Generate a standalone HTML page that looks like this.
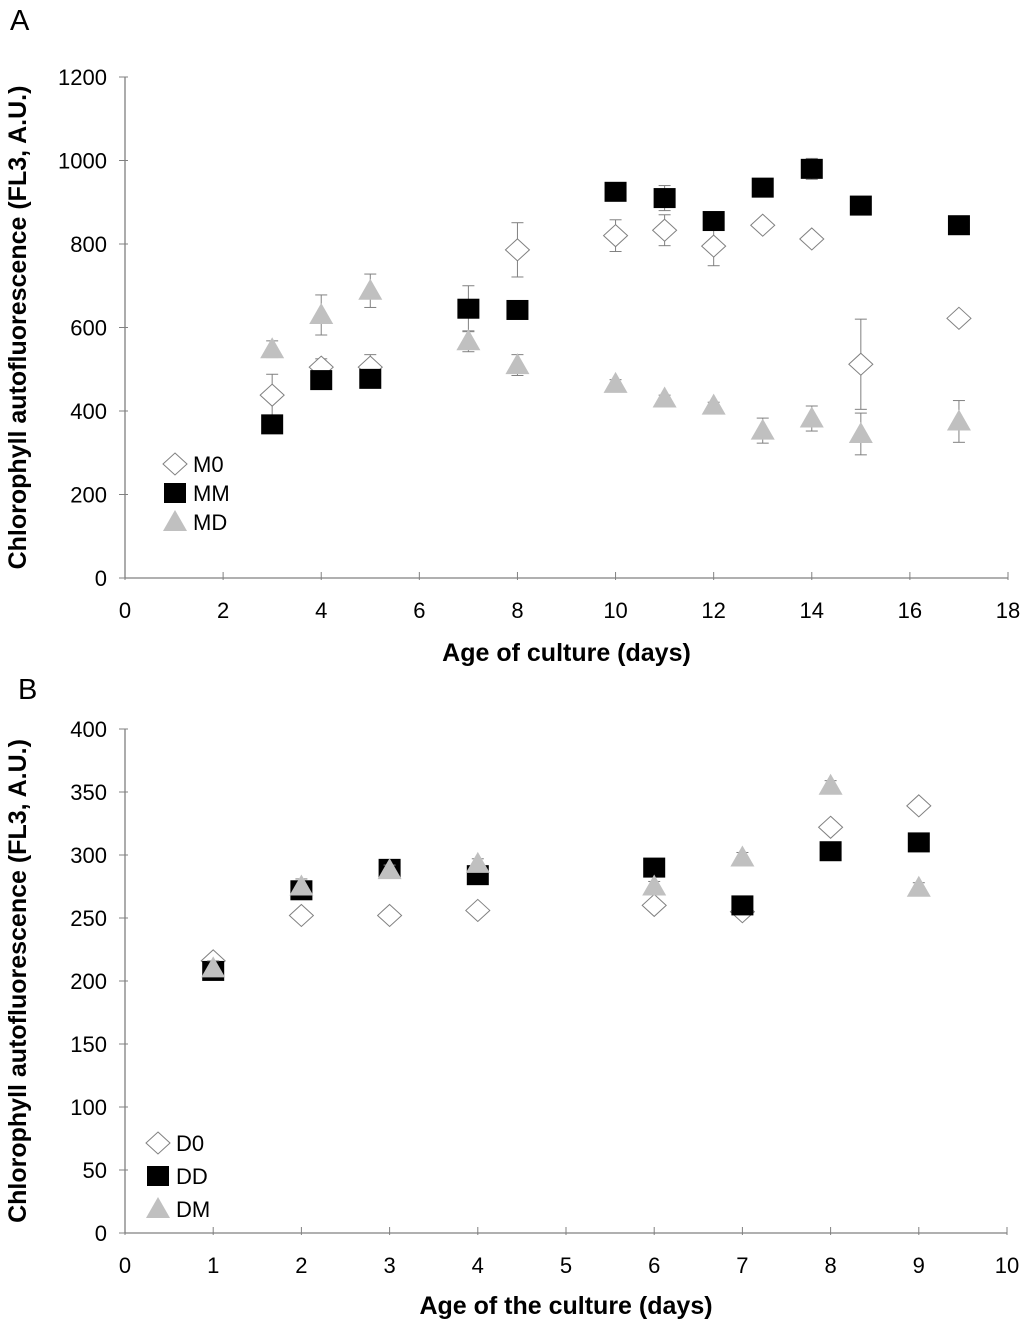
<!DOCTYPE html>
<html><head><meta charset="utf-8"><style>
body{margin:0;background:#fff}
svg text{font-family:"Liberation Sans",Arial,sans-serif}
</style></head><body>
<svg id="chart" width="1024" height="1321" viewBox="0 0 1024 1321" xmlns="http://www.w3.org/2000/svg">
<text x="10" y="30" font-size="29">A</text>
<text x="18" y="699" font-size="29">B</text>
<g id="pa"></g>
<g id="pb"></g>
</svg>
<script>
const daysA=[3,4,5,7,8,10,11,12,13,14,15,17];
const m0=[438,505,505,null,786,820,833,795,845,812,512,622];
const m0Err=[50,20,30,null,65,38,37,47,8,8,108,8];
const mm=[368,474,477,645,642,925,910,855,935,980,892,845];
const mmErr=[8,8,8,55,8,8,30,8,20,25,8,8];
const md=[548,630,688,567,510,465,430,413,353,382,345,375];
const mdErr=[20,48,40,25,25,10,8,8,30,30,50,50];
const ticksAx=[0,2,4,6,8,10,12,14,16,18];
const ticksAy=[0,200,400,600,800,1000,1200];

const daysB=[1,2,3,4,6,7,8,9];
const d0=[216,252,252,256,260,255,322,339];
const dd=[208,272,289,284,290,260,303,310];
const dm=[210,275,288,293,275,298,355,274];
const dmErr=[6,6,4,4,4,4,4,4];
const ticksBx=[0,1,2,3,4,5,6,7,8,9,10];
const ticksBy=[0,50,100,150,200,250,300,350,400];

const NS="http://www.w3.org/2000/svg";
function mk(p,t,a,txt){const e=document.createElementNS(NS,t);for(const k in a)e.setAttribute(k,a[k]);if(txt!=null)e.textContent=txt;p.appendChild(e);return e;}

function panel(g,o){
 const sx=v=>o.x0+(v-o.xmin)/(o.xmax-o.xmin)*(o.x1-o.x0);
 const sy=v=>o.y0-(v-o.ymin)/(o.ymax-o.ymin)*(o.y0-o.y1);
 let e;
 e=mk(g,'line',{x1:o.x0,y1:o.y0,x2:o.x1,y2:o.y0,stroke:'#808080','stroke-width':1.3});
 
 e=mk(g,'line',{x1:o.x0,y1:o.y0,x2:o.x0,y2:o.y1,stroke:'#808080','stroke-width':1.3});
 
 o.tx.forEach(t=>{mk(g,'line',{x1:sx(t),y1:o.y0-6,x2:sx(t),y2:o.y0+2,stroke:'#808080'});
  e=mk(g,'text',{x:sx(t),y:o.y0+40,'font-size':22,'text-anchor':'middle'},t);
  });
 o.ty.forEach(t=>{mk(g,'line',{x1:o.x0-6,y1:sy(t),x2:o.x0+3,y2:sy(t),stroke:'#808080'});
  e=mk(g,'text',{x:o.x0-18,y:sy(t)+8,'font-size':22,'text-anchor':'end'},t);
  });
 e=mk(g,'text',{x:(o.x0+o.x1)/2,y:o.xtY,'font-size':25,'font-weight':'bold','text-anchor':'middle'},o.xt);
 
 const cy=(o.y0+o.y1)/2;
 e=mk(g,'text',{x:26,y:cy,'font-size':25,'font-weight':'bold','text-anchor':'middle',transform:`rotate(-90 26 ${cy})`},'Chlorophyll autofluorescence (FL3, A.U.)');
 
 o.series.forEach(s=>{
  s.ys.forEach((v,i)=>{ if(v==null)return;
   const x=sx(o.xs[i]),y=sy(v);
   if(s.err&&s.err[i]){const a=sy(v+s.err[i]),b=sy(v-s.err[i]);
    mk(g,'line',{x1:x,y1:a,x2:x,y2:b,stroke:'#808080'});
    mk(g,'line',{x1:x-6,y1:a,x2:x+6,y2:a,stroke:'#808080'});
    mk(g,'line',{x1:x-6,y1:b,x2:x+6,y2:b,stroke:'#808080'});}
   e=marker(g,s.type,x,y);
   
  });
 });
 o.legend.forEach((l,i)=>{const y=o.ly+i*o.lg;
  e=marker(g,l.type,o.lx,y);
  e=mk(g,'text',{x:o.lx+18,y:y+8,'font-size':22},l.label);
  });
}
function marker(g,t,x,y){
 if(t==='sq')return mk(g,'rect',{x:x-11,y:y-10,width:22,height:20,fill:'#000'});
 if(t==='di')return mk(g,'polygon',{points:`${x},${y-11} ${x+12},${y} ${x},${y+11} ${x-12},${y}`,fill:'#fff',stroke:'#808080','stroke-width':1});
 return mk(g,'polygon',{points:`${x},${y-12} ${x+12},${y+9} ${x-12},${y+9}`,fill:'#c0c0c0'});
}
panel(document.getElementById('pa'),{x0:125,x1:1008,y0:578,y1:77,xmin:0,xmax:18,ymin:0,ymax:1200,tx:ticksAx,ty:ticksAy,
 xt:'Age of culture (days)',xtY:661,xs:daysA,
 series:[{name:'m0',type:'di',ys:m0,err:m0Err},{name:'mm',type:'sq',ys:mm,err:mmErr},{name:'md',type:'tr',ys:md,err:mdErr}],
 legend:[{type:'di',label:'M0'},{type:'sq',label:'MM'},{type:'tr',label:'MD'}],lx:175,ly:464,lg:29});
panel(document.getElementById('pb'),{x0:125,x1:1007,y0:1233,y1:729,xmin:0,xmax:10,ymin:0,ymax:400,tx:ticksBx,ty:ticksBy,
 xt:'Age of the culture (days)',xtY:1314,xs:daysB,
 series:[{name:'d0',type:'di',ys:d0},{name:'dd',type:'sq',ys:dd},{name:'dm',type:'tr',ys:dm,err:dmErr}],
 legend:[{type:'di',label:'D0'},{type:'sq',label:'DD'},{type:'tr',label:'DM'}],lx:158,ly:1143,lg:33});
</script>
</body></html>
